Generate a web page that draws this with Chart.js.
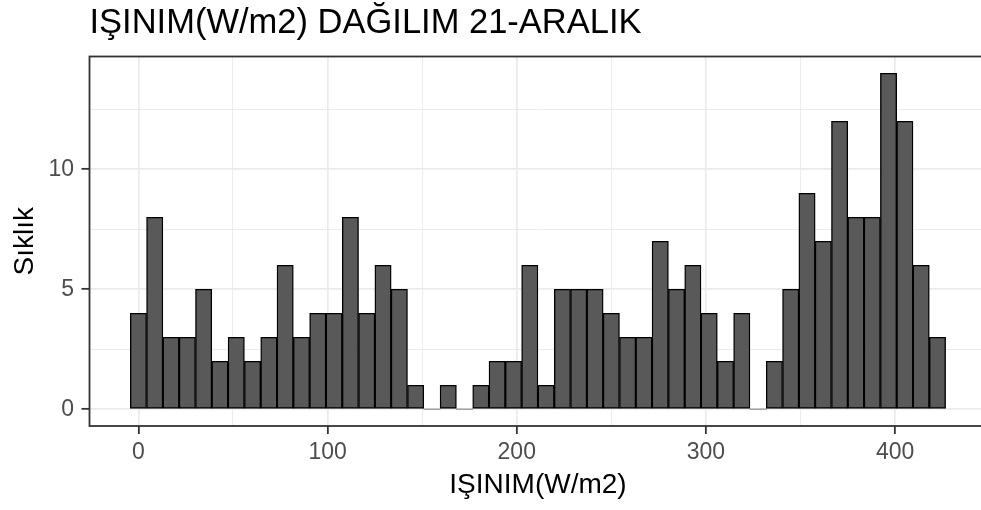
<!DOCTYPE html>
<html lang="tr">
<head>
<meta charset="utf-8">
<title>IŞINIM DAĞILIM 21-ARALIK</title>
<script src="https://cdn.jsdelivr.net/npm/chart.js@4.4.1/dist/chart.umd.min.js"></script>
<style>
    html, body { margin: 0; padding: 0; background: #fff; overflow: hidden; }
    #wrap { position: relative; width: 992px; height: 510px; }
</style>
</head>
<body>
<div id="wrap"><canvas id="histChart"></canvas></div>
<script>
// Histogram sınıf merkezleri (W/m2) ve frekanslar
const binCenters = [
    0.00, 8.62, 17.24, 25.86, 34.48, 43.10, 51.72, 60.34, 68.96, 77.58,
    86.20, 94.82, 103.44, 112.06, 120.68, 129.30, 137.92, 146.54, 155.16, 163.78,
    172.40, 181.02, 189.64, 198.26, 206.88, 215.50, 224.12, 232.74, 241.36, 249.98,
    258.60, 267.22, 275.84, 284.46, 293.08, 301.70, 310.32, 318.94, 327.56, 336.18,
    344.80, 353.42, 362.04, 370.66, 379.28, 387.90, 396.52, 405.14, 413.76, 422.38
];
const counts = [
    4, 8, 3, 3, 5, 2, 3, 2, 3, 6,
    3, 4, 4, 8, 4, 6, 5, 1, 0, 1,
    0, 1, 2, 2, 6, 1, 5, 5, 5, 4,
    3, 3, 7, 5, 6, 4, 2, 4, 0, 2,
    5, 9, 7, 12, 8, 8, 14, 12, 6, 3
];

const xMajorTicks = [0, 100, 200, 300, 400];
const xMinorTicks = [50, 150, 250, 350];
const xTickLabels = ['0', '100', '200', '300', '400'];
const yMajorTicks = [0, 5, 10];
const yMinorTicks = [2.5, 7.5, 12.5];
const yTickLabels = ['0', '5', '10'];

const chartTitle = 'IŞINIM(W/m2) DAĞILIM 21-ARALIK';
const xTitle = 'IŞINIM(W/m2)';
const yTitle = 'Sıklık';

// Renkler (ggplot theme_bw)
const colors = {
    bar: '#595959',
    barBorder: '#000000',
    grid: '#ebebeb',
    axis: '#333333',
    tickText: '#4d4d4d',
    text: '#000000'
};
const FONT = "'Liberation Sans', Arial, Helvetica, sans-serif";

function isMajor(list, value) {
    return list.some(v => Math.abs(v - value) < 1e-9);
}

// Panel çerçevesi
const panelBorder = {
    id: 'panelBorder',
    afterDraw(chart) {
        const { ctx, chartArea: a } = chart;
        ctx.save();
        ctx.strokeStyle = colors.axis;
        ctx.lineWidth = 1.8;
        ctx.strokeRect(a.left, a.top, a.right - a.left, a.bottom - a.top);
        ctx.restore();
    }
};

const ctx = document.getElementById('histChart').getContext('2d');
new Chart(ctx, {
    type: 'bar',
    data: {
        datasets: [{
            data: binCenters.map((x, i) => ({ x: x, y: counts[i] })),
            backgroundColor: colors.bar,
            borderColor: colors.barBorder,
            borderWidth: c => (c.raw && c.raw.y > 0 ? 1.4 : 0),
            borderSkipped: false,
            barPercentage: 1,
            categoryPercentage: 1
        }]
    },
    options: {
        responsive: true,
        maintainAspectRatio: false,
        animation: false,
        events: [],
        layout: { padding: { left: 0, top: 0, right: 5.5, bottom: 0 } },
        plugins: {
            legend: { display: false },
            tooltip: { enabled: false },
            title: {
                display: true,
                text: chartTitle,
                align: 'start',
                fullSize: false,
                color: colors.text,
                font: { family: FONT, size: 34.5, weight: 'normal' },
                padding: { top: 2.3, bottom: 12.8 }
            }
        },
        scales: {
            x: {
                type: 'linear',
                min: -25.85,
                max: 448.3,
                offset: false,
                afterBuildTicks: s => {
                    s.ticks = [...xMajorTicks, ...xMinorTicks].sort((a, b) => a - b).map(v => ({ value: v }));
                },
                afterFit: s => { s.height = 84; },
                border: { display: false },
                grid: {
                    offset: false,
                    color: colors.grid,
                    lineWidth: c => (isMajor(xMajorTicks, c.tick.value) ? 1.7 : 0.9),
                    drawTicks: true,
                    tickLength: 8,
                    tickWidth: 1.8,
                    tickColor: c => (isMajor(xMajorTicks, c.tick.value) ? colors.axis : 'rgba(0,0,0,0)')
                },
                ticks: {
                    autoSkip: false,
                    maxRotation: 0,
                    padding: 4.7,
                    color: colors.tickText,
                    font: { family: FONT, size: 23 },
                    callback: v => {
                        const i = xMajorTicks.indexOf(v);
                        return i >= 0 ? xTickLabels[i] : '';
                    }
                },
                title: {
                    display: true,
                    text: xTitle,
                    color: colors.text,
                    font: { family: FONT, size: 28 },
                    padding: { top: 0, bottom: 7.9 }
                }
            },
            y: {
                type: 'linear',
                min: -0.7,
                max: 14.7,
                afterBuildTicks: s => {
                    s.ticks = [...yMajorTicks, ...yMinorTicks].sort((a, b) => a - b).map(v => ({ value: v }));
                },
                afterFit: s => { s.width = 89.5; },
                border: { display: false },
                grid: {
                    color: colors.grid,
                    lineWidth: c => (isMajor(yMajorTicks, c.tick.value) ? 1.7 : 0.9),
                    drawTicks: true,
                    tickLength: 8,
                    tickWidth: 1.8,
                    tickColor: c => (isMajor(yMajorTicks, c.tick.value) ? colors.axis : 'rgba(0,0,0,0)')
                },
                ticks: {
                    autoSkip: false,
                    padding: 7.5,
                    color: colors.tickText,
                    font: { family: FONT, size: 23 },
                    callback: v => {
                        const i = yMajorTicks.indexOf(v);
                        return i >= 0 ? yTickLabels[i] : '';
                    }
                },
                title: {
                    display: true,
                    text: yTitle,
                    color: colors.text,
                    font: { family: FONT, size: 28 },
                    padding: { top: 8.5, bottom: 0 }
                }
            }
        }
    },
    plugins: [panelBorder]
});
</script>
</body>
</html>
